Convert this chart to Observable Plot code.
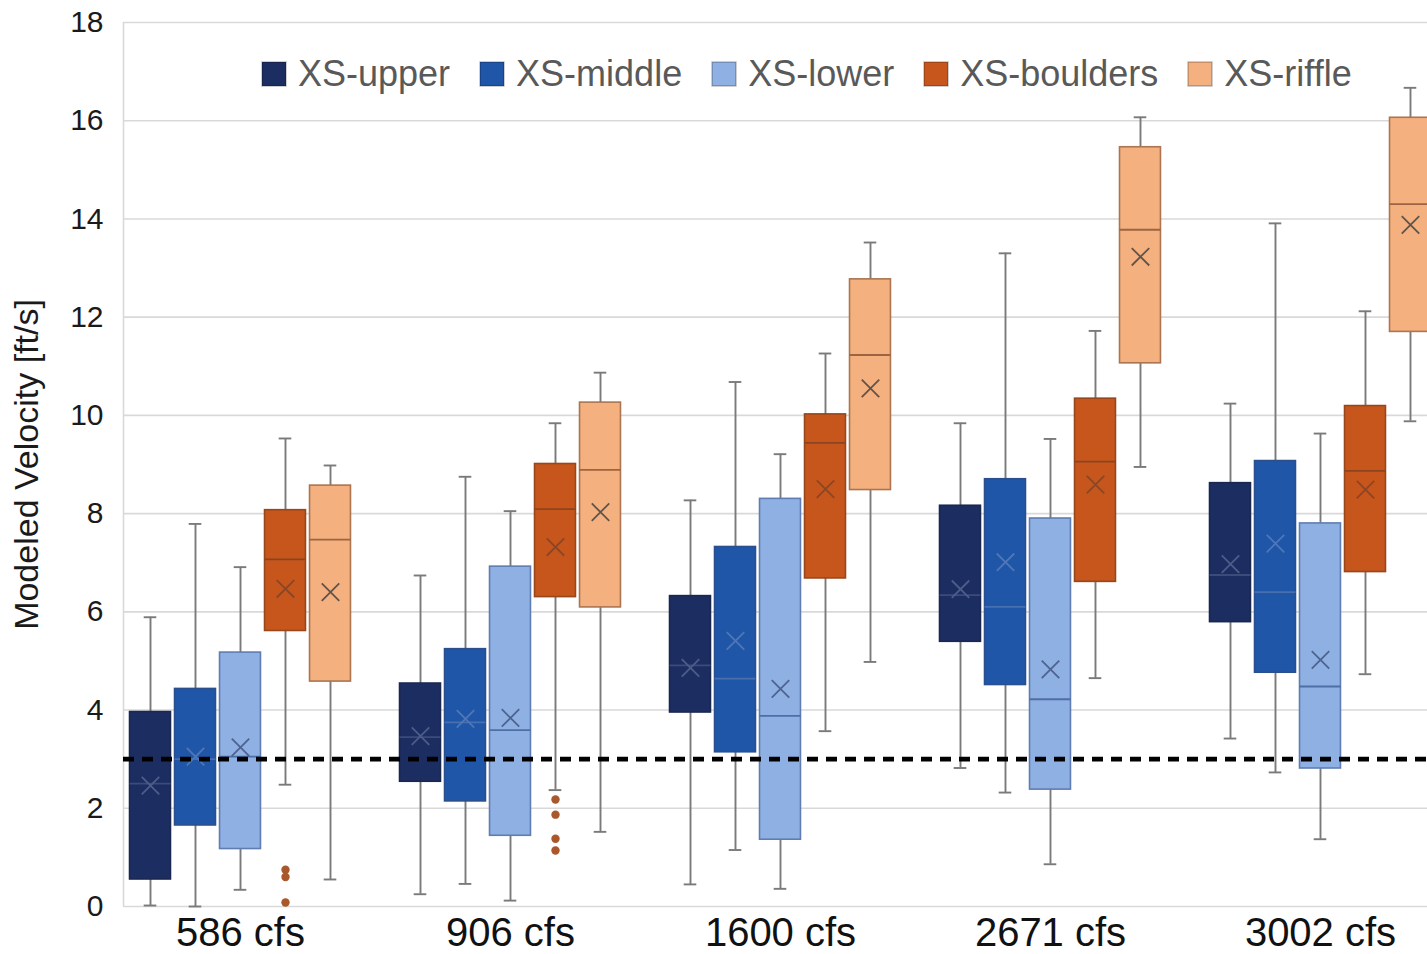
<!DOCTYPE html>
<html><head><meta charset="utf-8">
<script src="https://cdn.jsdelivr.net/npm/d3@7"></script>
<script src="https://cdn.jsdelivr.net/npm/@observablehq/plot@0.6"></script>
<style>
html,body{margin:0;padding:0;background:#fff;overflow:hidden;}
#wrap{position:relative;width:1427px;height:954px;overflow:hidden;}
#chart svg{overflow:hidden;}
#legend{position:absolute;left:262px;top:53px;}
.lg-swatch{margin-right:30px !important;}
.lg-swatch > svg{margin-right:12px !important;}
.lg-swatch rect{stroke:rgba(0,0,0,0.25);stroke-width:1.5px;}
</style></head><body><div id="wrap"><div id="chart"></div><div id="legend"></div></div>
<script>
// Categories
const groups = ["586 cfs", "906 cfs", "1600 cfs", "2671 cfs", "3002 cfs"];
const series = ["XS-upper", "XS-middle", "XS-lower", "XS-boulders", "XS-riffle"];
const yTicks = [0, 2, 4, 6, 8, 10, 12, 14, 16, 18];
const threshold = 3;

// Box statistics: rows = groups, columns = series (upper, middle, lower, boulders, riffle)
const whiskerLow = [
  [0.02, 0.00, 0.34, 2.48, 0.55],
  [0.25, 0.46, 0.12, 2.37, 1.52],
  [0.45, 1.15, 0.36, 3.57, 4.98],
  [2.82, 2.32, 0.86, 4.65, 8.95],
  [3.42, 2.73, 1.37, 4.73, 9.88]
];
const q1 = [
  [0.55, 1.65, 1.17, 5.61, 4.58],
  [2.54, 2.14, 1.44, 6.30, 6.09],
  [3.95, 3.14, 1.36, 6.68, 8.48],
  [5.39, 4.51, 2.38, 6.61, 11.06],
  [5.79, 4.76, 2.81, 6.81, 11.70]
];
const median = [
  [2.50, 3.00, 3.05, 7.07, 7.47],
  [3.45, 3.75, 3.59, 8.09, 8.89],
  [4.91, 4.64, 3.88, 9.44, 11.23],
  [6.34, 6.10, 4.22, 9.06, 13.78],
  [6.75, 6.40, 4.48, 8.87, 14.30]
];
const q3 = [
  [3.96, 4.43, 5.17, 8.07, 8.57],
  [4.54, 5.24, 6.92, 9.01, 10.26],
  [6.32, 7.32, 8.30, 10.02, 12.77],
  [8.16, 8.70, 7.90, 10.34, 15.46],
  [8.62, 9.07, 7.80, 10.19, 16.06]
];
const whiskerHigh = [
  [5.89, 7.79, 6.91, 9.53, 8.98],
  [6.74, 8.75, 8.05, 9.84, 10.87],
  [8.27, 10.68, 9.21, 11.26, 13.52],
  [9.84, 13.30, 9.52, 11.72, 16.07],
  [10.24, 13.91, 9.63, 12.12, 16.67]
];
const mean = [
  [2.46, 3.05, 3.24, 6.47, 6.40],
  [3.47, 3.82, 3.84, 7.32, 8.03],
  [4.86, 5.41, 4.43, 8.50, 10.55],
  [6.46, 7.01, 4.83, 8.59, 13.23],
  [6.97, 7.39, 5.02, 8.49, 13.88]
];
// Outliers (XS-boulders only), per group
const boulderOutliers = [
  [0.75, 0.60, 0.08],
  [2.18, 1.87, 1.38, 1.14],
  [], [], []
];

// Styles
const fills = ["#1c2d62", "#1f56a8", "#8fb0e2", "#c6561c", "#f5b07f"];
const boxStrokes = ["#1a2850", "#2a4f8c", "#5f7db2", "#98461c", "#ab7551"];
const medianStrokes = ["#3b4b7a", "#4a6fb0", "#4f6ea6", "#8c4420", "#9c6440"];
const meanStrokes = ["#4e5d88", "#4f77b8", "#4d6390", "#8a4626", "#5f544c"];

// Derived table for the library
const slots = 6; // 5 boxes + 1 gap per category
const boxes = [];
groups.forEach((gName, g) => series.forEach((sName, s) => boxes.push({
  group: gName, series: sName, s, pos: g * slots + s,
  lo: whiskerLow[g][s], q1: q1[g][s], med: median[g][s], q3: q3[g][s], hi: whiskerHigh[g][s], mean: mean[g][s]
})));
const outlierRows = [];
boulderOutliers.forEach((vals, g) => vals.forEach(v => outlierRows.push({pos: g * slots + 3, v})));

const half = 0.455, cap = 0.14;
const font = "'Liberation Sans', Arial, sans-serif";
const xDomain = [-0.6, 28.378];

const perSeries = (fn) => series.flatMap((_, i) => fn(boxes.filter(d => d.s === i), i));

const chart = Plot.plot({
  width: 1427, height: 954,
  marginLeft: 123, marginRight: 0, marginTop: 22, marginBottom: 48,
  style: {fontFamily: font, color: "#1a1a1a", background: "#fff"},
  x: {type: "linear", domain: xDomain},
  y: {domain: [0, 18]},
  marks: [
    Plot.ruleY(yTicks, {stroke: "#d9d9d9", strokeWidth: 1.6}),
    Plot.ruleX([xDomain[0]], {y1: 0, y2: 18, stroke: "#d9d9d9", strokeWidth: 1.6}),
    // whiskers
    Plot.ruleX(boxes, {x: "pos", y1: "lo", y2: "hi", stroke: "#7a7a7a", strokeWidth: 1.9}),
    Plot.ruleY(boxes, {y: "lo", x1: d => d.pos - cap, x2: d => d.pos + cap, stroke: "#7a7a7a", strokeWidth: 1.9}),
    Plot.ruleY(boxes, {y: "hi", x1: d => d.pos - cap, x2: d => d.pos + cap, stroke: "#7a7a7a", strokeWidth: 1.9}),
    // boxes
    ...perSeries((data, i) => [
      Plot.rect(data, {x1: d => d.pos - half, x2: d => d.pos + half, y1: "q1", y2: "q3", fill: fills[i], stroke: boxStrokes[i], strokeWidth: 1.6}),
      Plot.ruleY(data, {y: "med", x1: d => d.pos - half, x2: d => d.pos + half, stroke: medianStrokes[i], strokeWidth: 1.8}),
      Plot.dot(data, {x: "pos", y: "mean", symbol: "times", r: 8, stroke: meanStrokes[i], strokeWidth: 1.8})
    ]),
    // outliers
    Plot.dot(outlierRows, {x: "pos", y: "v", r: 4.2, fill: "#a9582c", stroke: "none"}),
    // threshold line
    Plot.ruleY([threshold], {stroke: "#000", strokeWidth: 4.8, strokeDasharray: "11,8"}),
    // axes
    Plot.axisY(yTicks, {tickSize: 0, tickPadding: 20, fontSize: 30, label: null, fill: "#1a1a1a"}),
    Plot.axisY([], {label: "Modeled Velocity [ft/s]", labelAnchor: "center", labelOffset: 110, labelArrow: "none", fontSize: 34, fill: "#1a1a1a", tickSize: 0}),
    Plot.axisX(groups.map((_, g) => g * slots + 2), {tickFormat: d => groups[Math.round((d - 2) / slots)], tickSize: 0, tickPadding: 11, fontSize: 40, label: null, fill: "#111"})
  ]
});
document.getElementById("chart").appendChild(chart);

const legend = Plot.legend({
  color: {type: "ordinal", domain: series, range: fills},
  legend: "swatches", swatchSize: 24, className: "lg",
  style: {fontSize: "36px", fontFamily: font, color: "#595959"}
});
document.getElementById("legend").appendChild(legend);
</script></body></html>
